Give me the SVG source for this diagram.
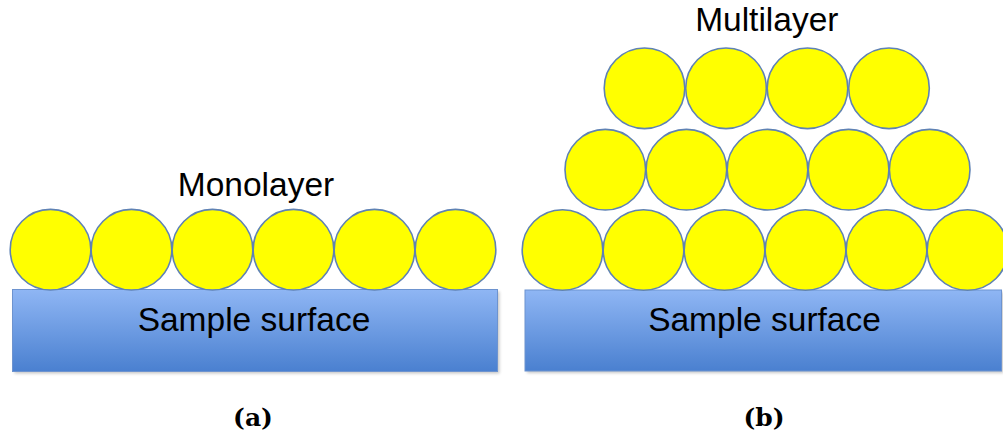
<svg xmlns="http://www.w3.org/2000/svg" width="1003" height="442" viewBox="0 0 1003 442">
  <defs>
    <linearGradient id="surfaceFill" x1="0" y1="0" x2="0" y2="1">
      <stop offset="0" stop-color="#8fb6f4"/>
      <stop offset="1" stop-color="#4a80d0"/>
    </linearGradient>
    <filter id="softShadow" x="-5%" y="-5%" width="110%" height="120%">
      <feGaussianBlur stdDeviation="1.5"/>
    </filter>
  </defs>
  <style>
    .surface { fill: url(#surfaceFill); stroke: #6d93cf; stroke-width: 1; }
    .shadow { fill: #000; opacity: 0.22; filter: url(#softShadow); }
    .particle { fill: #ffff00; stroke: #5f82b4; stroke-width: 1.6; }
    .label { font-family: "Liberation Sans", Arial, sans-serif; font-size: 33.5px; fill: #000; text-anchor: middle; }
    .caption { font-family: "DejaVu Serif", "Liberation Serif", serif; font-weight: bold; font-size: 25px; fill: #000; text-anchor: middle; }
  </style>
  <rect width="1003" height="442" fill="#ffffff"/>

  <!-- (a) monolayer on a substrate -->
  <g id="surface-a">
    <rect class="shadow" x="14.5" y="291.5" width="485" height="82"/>
    <rect class="surface" x="12.5" y="289.5" width="485" height="82"/>
    <text class="label" x="254" y="330.5">Sample surface</text>
  </g>
  <g id="monolayer">
    <circle class="particle" cx="50.5" cy="249.7" r="40.3"/>
    <circle class="particle" cx="131.5" cy="249.7" r="40.3"/>
    <circle class="particle" cx="212.5" cy="249.7" r="40.3"/>
    <circle class="particle" cx="293.5" cy="249.7" r="40.3"/>
    <circle class="particle" cx="374.5" cy="249.7" r="40.3"/>
    <circle class="particle" cx="455.5" cy="249.7" r="40.3"/>
  </g>
  <g id="label-monolayer">
    <text class="label" x="256" y="196">Monolayer</text>
  </g>
  <g id="caption-a">
    <text class="caption" x="253" y="426">(a)</text>
  </g>

  <!-- (b) multilayer stack on a substrate -->
  <g id="surface-b">
    <rect class="shadow" x="527" y="292" width="476.5" height="81"/>
    <rect class="surface" x="525" y="290" width="476.5" height="81"/>
    <text class="label" x="764.5" y="330.5">Sample surface</text>
  </g>
  <g id="multilayer-row1">
    <circle class="particle" cx="562.5" cy="250" r="40.3"/>
    <circle class="particle" cx="643.5" cy="250" r="40.3"/>
    <circle class="particle" cx="724.5" cy="250" r="40.3"/>
    <circle class="particle" cx="805.5" cy="250" r="40.3"/>
    <circle class="particle" cx="886.5" cy="250" r="40.3"/>
    <circle class="particle" cx="967.5" cy="250" r="40.3"/>
  </g>
  <g id="multilayer-row2">
    <circle class="particle" cx="605.3" cy="169.7" r="40.3"/>
    <circle class="particle" cx="686.4" cy="169.7" r="40.3"/>
    <circle class="particle" cx="767.5" cy="169.7" r="40.3"/>
    <circle class="particle" cx="848.6" cy="169.7" r="40.3"/>
    <circle class="particle" cx="929.7" cy="169.7" r="40.3"/>
  </g>
  <g id="multilayer-row3">
    <circle class="particle" cx="644.5" cy="88.3" r="40.3"/>
    <circle class="particle" cx="726" cy="88.3" r="40.3"/>
    <circle class="particle" cx="807.5" cy="88.3" r="40.3"/>
    <circle class="particle" cx="889" cy="88.3" r="40.3"/>
  </g>
  <g id="label-multilayer">
    <text class="label" x="766.8" y="30.5">Multilayer</text>
  </g>
  <g id="caption-b">
    <text class="caption" x="764" y="426">(b)</text>
  </g>
</svg>
